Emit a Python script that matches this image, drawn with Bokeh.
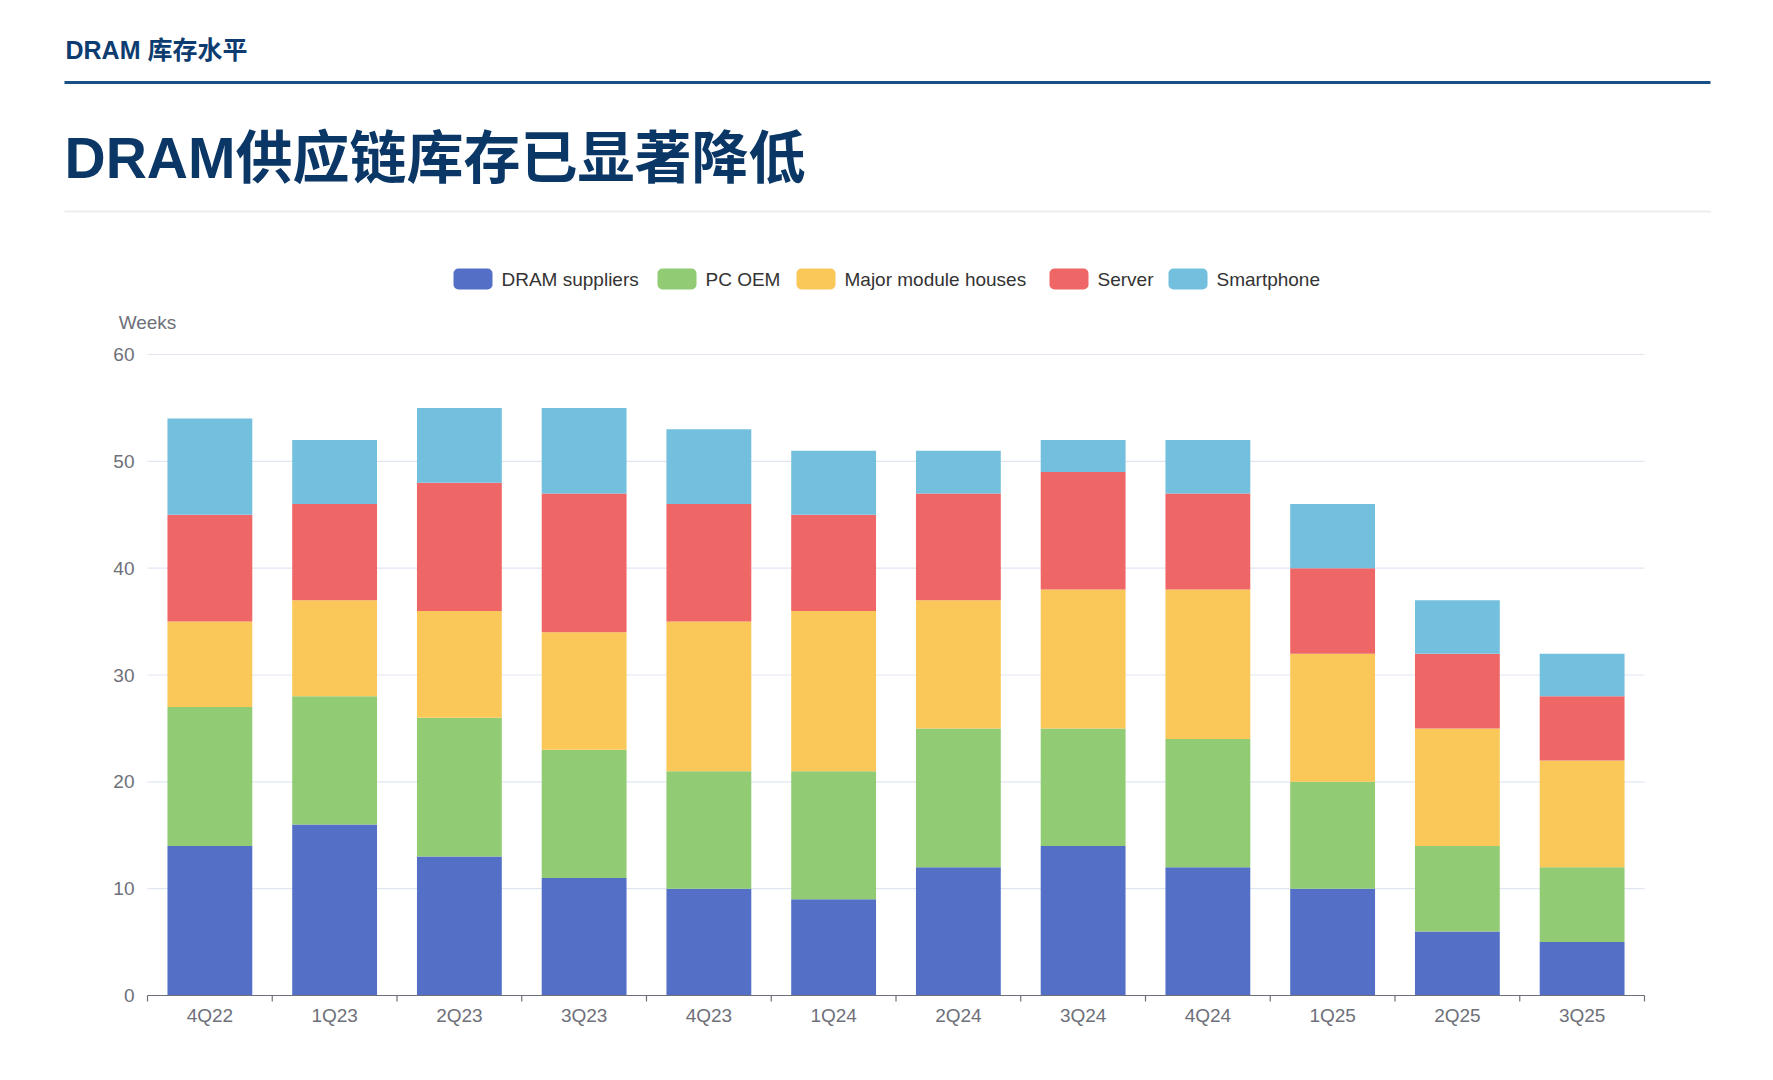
from bokeh.plotting import figure
from bokeh.models import ColumnDataSource, Range1d, FixedTicker
from bokeh.core.properties import value
from bokeh.embed import file_html
from bokeh.resources import INLINE

# ---------------- data ----------------
quarters = ["4Q22", "1Q23", "2Q23", "3Q23", "4Q23", "1Q24", "2Q24", "3Q24",
            "4Q24", "1Q25", "2Q25", "3Q25"]
dram_suppliers = [14, 16, 13, 11, 10, 9, 12, 14, 12, 10, 6, 5]
pc_oem = [13, 12, 13, 12, 11, 12, 13, 11, 12, 10, 8, 7]
module_houses = [8, 9, 10, 11, 14, 15, 12, 13, 14, 12, 11, 10]
server = [10, 9, 12, 13, 11, 9, 10, 11, 9, 8, 7, 6]
smartphone = [9, 6, 7, 8, 7, 6, 4, 3, 5, 6, 5, 4]
series_names = ["DRAM suppliers", "PC OEM", "Major module houses", "Server", "Smartphone"]
series_keys = ["dram", "pc", "module", "server", "phone"]
colors = ["#5470c6", "#91cc75", "#fac858", "#ee6666", "#73c0de"]
y_ticks = [0, 10, 20, 30, 40, 50, 60]
y_tick_labels = ["0", "10", "20", "30", "40", "50", "60"]

header = "DRAM 库存水平"
title = "DRAM供应链库存已显著降低"
y_name = "Weeks"

# ---------------- layout (page pixels) ----------------
PAGE_W, PAGE_H = 1773, 1080
PL, PR, PB, P60 = 147, 1644, 995, 354      # plot-area left/right, y of 0 and of 60
FBOT = 1004                                 # bottom of the drawing frame
N = len(quarters)
UNIT = (PR - PL) / N                        # px per category
PX_PER_VAL = (PB - P60) / 60                # px per week

LATIN_CJK = "Liberation Sans, Noto Sans CJK SC"
AXIS_GREY = "#6e7079"

p = figure(width=PAGE_W, height=PAGE_H, output_backend="svg", toolbar_location=None,
           title=None,
           x_range=Range1d(-PL / UNIT, N + (PAGE_W - PR) / UNIT),
           y_range=Range1d(-(FBOT - PB) / PX_PER_VAL, PB / PX_PER_VAL),
           min_border_left=0, min_border_right=0, min_border_top=0,
           min_border_bottom=PAGE_H - FBOT, y_axis_location=None,
           background_fill_color="white", border_fill_color="white")
p.outline_line_color = None
p.xgrid.visible = False
p.ygrid.visible = False
p.extra_x_ranges = {"px": Range1d(0, PAGE_W)}
p.extra_y_ranges = {"py": Range1d(FBOT, 0)}

# ---------------- header ----------------
p.text(x=[65], y=[49], text=[header], text_align="left", text_baseline="middle",
       text_color="#0d3d70", text_font=value(LATIN_CJK), text_font_style="bold",
       text_font_size="25px", x_range_name="px", y_range_name="py")
p.quad(left=[64], right=[1710], top=[80.5], bottom=[83.5], fill_color="#1a4f86",
       line_color=None, x_range_name="px", y_range_name="py")
p.text(x=[64], y=[157], text=[title], text_align="left", text_baseline="middle",
       text_color="#0a3766", text_font=value(LATIN_CJK), text_font_style="bold",
       text_font_size="57px", x_range_name="px", y_range_name="py")
p.quad(left=[64], right=[1710], top=[210], bottom=[212], fill_color="#eeeeee",
       line_color=None, x_range_name="px", y_range_name="py")

# ---------------- legend ----------------
swatch_x = [453, 657, 796, 1049, 1168]
LY = 278.5
leg = ColumnDataSource(dict(
    left=swatch_x, right=[x + 39 for x in swatch_x],
    top=[LY - 10.5] * len(swatch_x), bottom=[LY + 10.5] * len(swatch_x),
    tx=[x + 48 for x in swatch_x], ty=[LY] * len(swatch_x),
    name=series_names, color=colors))
p.quad(left="left", right="right", top="top", bottom="bottom", fill_color="color",
       line_color=None, border_radius=5, source=leg, x_range_name="px", y_range_name="py")
p.text(x="tx", y="ty", text="name", text_align="left", text_baseline="middle",
       text_color="#333333", text_font=value("Liberation Sans"), text_font_size="19px",
       source=leg, x_range_name="px", y_range_name="py")

# ---------------- value axis (labels, name, grid) ----------------
p.text(x=[PL], y=[322], text=[y_name], text_align="center", text_baseline="middle",
       text_color=AXIS_GREY, text_font=value("Liberation Sans"), text_font_size="19px",
       x_range_name="px", y_range_name="py")
ysrc = ColumnDataSource(dict(y=y_ticks, label=y_tick_labels,
                             lx=[PL - 13] * len(y_ticks),
                             x0=[0] * len(y_ticks), x1=[N] * len(y_ticks)))
p.segment(x0="x0", x1="x1", y0="y", y1="y", line_color="#e0e6f1", line_width=1.2,
          source=ysrc)
p.text(x="lx", y="y", text="label", text_align="right", text_baseline="middle",
       text_color=AXIS_GREY, text_font=value("Liberation Sans"), text_font_size="19px",
       source=ysrc, x_range_name="px")

# ---------------- stacked bars ----------------
xs = [i + 0.5 for i in range(N)]
source = ColumnDataSource(dict(x=xs, q=quarters, dram=dram_suppliers, pc=pc_oem,
                               module=module_houses, server=server, phone=smartphone))
p.vbar_stack(series_keys, x="x", width=0.68, source=source, color=colors,
             line_color=None)

# category axis baseline and boundary ticks
bounds = list(range(N + 1))
p.segment(x0=[0], x1=[N], y0=[0], y1=[0], line_color=AXIS_GREY, line_width=1.2)
p.segment(x0=bounds, x1=bounds, y0=[0] * len(bounds),
          y1=[-6 / PX_PER_VAL] * len(bounds), line_color=AXIS_GREY, line_width=1.2)

# category axis labels at bar centres
p.xaxis.ticker = FixedTicker(ticks=xs)
p.xaxis.major_label_overrides = {x: q for x, q in zip(xs, quarters)}
p.xaxis.axis_line_color = None
p.xaxis.major_tick_line_color = None
p.xaxis.major_tick_out = 0
p.xaxis.major_tick_in = 0
p.xaxis.minor_tick_line_color = None
p.xaxis.minor_tick_out = 0
p.xaxis.minor_tick_in = 0
p.xaxis.major_label_text_color = AXIS_GREY
p.xaxis.major_label_text_font = "Liberation Sans"
p.xaxis.major_label_text_font_size = "19px"
p.xaxis.major_label_standoff = 0

open("out.html", "w").write(file_html(p, INLINE))
